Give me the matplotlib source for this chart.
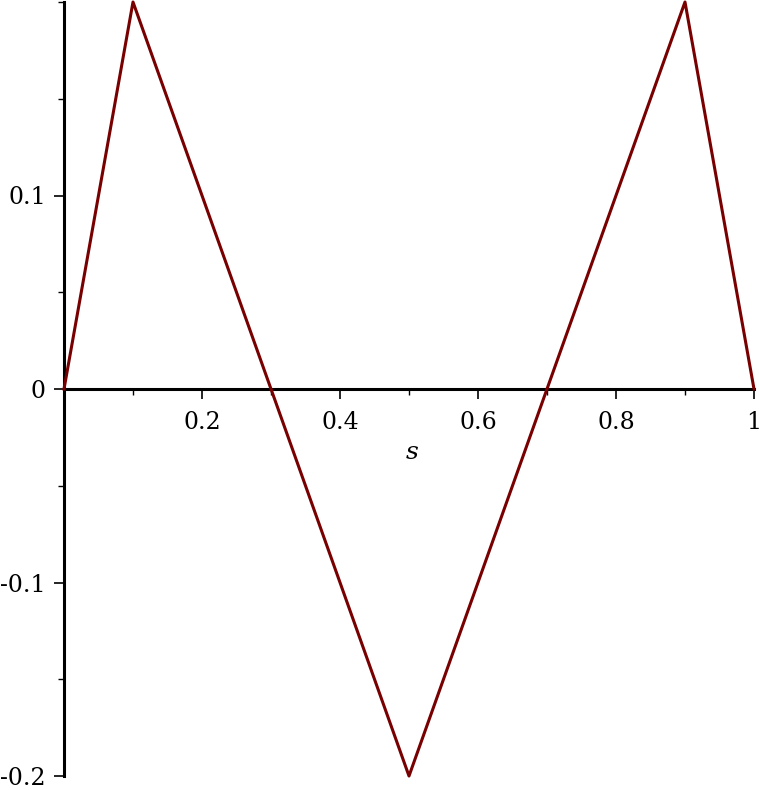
import matplotlib
matplotlib.use('Agg')
import matplotlib.pyplot as plt
from matplotlib.ticker import MultipleLocator, FixedLocator

# corner points of the piecewise linear curve
s_vals = [0, 0.1, 0.3, 0.5, 0.7, 0.9, 1.0]
f_vals = [0, 0.2, 0, -0.2, 0, 0.2, 0]

x_ticks = [0.2, 0.4, 0.6, 0.8, 1]
x_labels = ['0.2', '0.4', '0.6', '0.8', '1']
y_ticks = [-0.2, -0.1, 0, 0.1]
y_labels = ['-0.2', '-0.1', '0', '0.1']

fig = plt.figure(figsize=(7.59, 7.90), dpi=100)
ax = fig.add_axes([64 / 759, 1 - 776 / 790, 690 / 759, 774 / 790])

ax.plot(s_vals, f_vals, color='#780000', lw=2.2, clip_on=False, zorder=3)

ax.set_xlim(0, 1)
ax.set_ylim(-0.2, 0.2)

ax.spines['top'].set_visible(False)
ax.spines['right'].set_visible(False)
ax.spines['bottom'].set_position(('data', 0))
ax.spines['left'].set_linewidth(2.2)
ax.spines['bottom'].set_linewidth(2.2)

ax.xaxis.set_major_locator(FixedLocator(x_ticks))
ax.set_xticklabels(x_labels)
ax.xaxis.set_minor_locator(MultipleLocator(0.1))
ax.yaxis.set_major_locator(FixedLocator(y_ticks))
ax.set_yticklabels(y_labels)
ax.yaxis.set_minor_locator(MultipleLocator(0.05))

ax.tick_params(which='major', length=7, width=1.2, labelsize=17, pad=6)
ax.tick_params(axis='x', which='major', pad=9)
ax.tick_params(which='minor', length=4, width=1.0)
for lab in ax.get_xticklabels() + ax.get_yticklabels():
    lab.set_family('DejaVu Serif')

ax.text(0.505, -0.033, 's', fontsize=18, style='italic', family='DejaVu Serif',
        ha='center', va='center')

fig.savefig('out.png', dpi=100)
